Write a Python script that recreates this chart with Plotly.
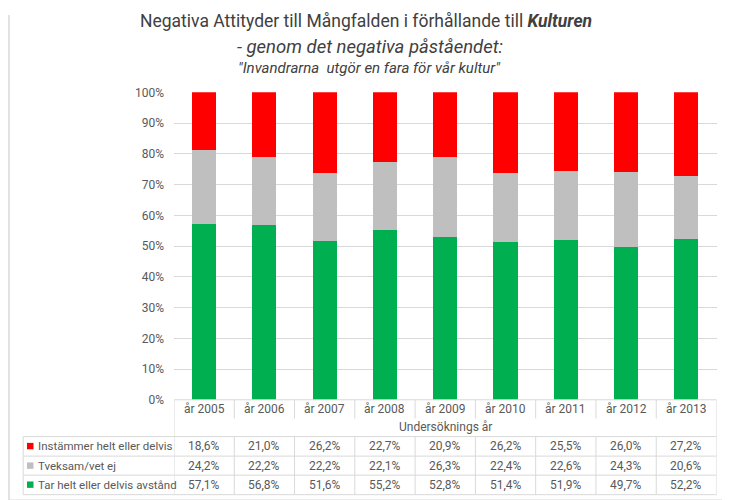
import plotly.graph_objects as go

years = ["år 2005", "år 2006", "år 2007", "år 2008", "år 2009", "år 2010", "år 2011", "år 2012", "år 2013"]
instammer = [18.6, 21.0, 26.2, 22.7, 20.9, 26.2, 25.5, 26.0, 27.2]
tveksam = [24.2, 22.2, 22.2, 22.1, 26.3, 22.4, 22.6, 24.3, 20.6]
tar_avstand = [57.1, 56.8, 51.6, 55.2, 52.8, 51.4, 51.9, 49.7, 52.2]
series_names = ["Instämmer helt eller delvis", "Tveksam/vet ej", "Tar helt eller delvis avstånd"]
series_colors = ["#FF0000", "#BFBFBF", "#00B050"]
y_ticks = list(range(0, 101, 10))
y_ticktext = [f"{v}%" for v in y_ticks]

W, H = 730, 500
FONT = "Roboto, sans-serif"
TXT = "#595959"
LINE = "#D9D9D9"

# calibration between reference pixels and figure coordinates
XOFF, YA, YB = 7.5, 0.97, 14.3

def px(x):
    return (x - XOFF) / W

def py(y):
    return 1 - ((y - YB) / YA) / H

PL, PR, PT, PB = 173.5, 716, 91.5, 398.3

fig = go.Figure()
for name, vals, col in zip(series_names[::-1], [tar_avstand, tveksam, instammer], series_colors[::-1]):
    fig.add_trace(go.Bar(x=years, y=vals, name=name, marker=dict(color=col, line=dict(width=0)),
                         showlegend=False))

fig.update_layout(
    width=W, height=H,
    barmode="stack", barnorm="percent", bargap=0.6,
    margin=dict(l=0, r=0, t=0, b=0),
    paper_bgcolor="white", plot_bgcolor="white",
    font=dict(family=FONT, color=TXT, size=12),
    xaxis=dict(domain=[px(PL), px(PR)], range=[-0.5, len(years) - 0.5], showticklabels=False,
               showgrid=False, zeroline=False, showline=False, fixedrange=True),
    yaxis=dict(domain=[py(PB), py(PT)], range=[0, 100], tickvals=y_ticks, ticktext=y_ticktext,
               gridcolor=LINE, gridwidth=1, zeroline=False, showline=False,
               tickfont=dict(size=12, color=TXT), ticklabelstandoff=9),
)

shapes = []
shapes.append(dict(type="line", xref="paper", yref="paper", x0=px(PL), x1=px(PR), y0=py(PB), y1=py(PB),
                   line=dict(color=LINE, width=1)))
row_lines = [435, 454.5, 473.5, 493]
for yy in row_lines:
    shapes.append(dict(type="line", xref="paper", yref="paper", x0=px(22.7), x1=px(PR), y0=py(yy), y1=py(yy),
                       line=dict(color=LINE, width=1)))
shapes.append(dict(type="line", xref="paper", yref="paper", x0=px(22.7), x1=px(22.7), y0=py(435), y1=py(493),
                   line=dict(color=LINE, width=1)))
n = len(years)
for k in range(n + 1):
    xv = -0.5 + k
    if k in (0, n):
        shapes.append(dict(type="line", xref="x", yref="paper", x0=xv, x1=xv, y0=py(PB), y1=py(493),
                           line=dict(color=LINE, width=1)))
    else:
        shapes.append(dict(type="line", xref="x", yref="paper", x0=xv, x1=xv, y0=py(PB), y1=py(417),
                           line=dict(color=LINE, width=1)))
        shapes.append(dict(type="line", xref="x", yref="paper", x0=xv, x1=xv, y0=py(435), y1=py(493),
                           line=dict(color=LINE, width=1)))
# outer chart border (left, right, bottom)
BL, BR, BB = 8.5, 727.5, 498.5
for x0, x1, y0, y1 in [(BL, BL, BB, None), (BR, BR, BB, None), (BL, BR, BB, BB)]:
    shapes.append(dict(type="line", xref="paper", yref="paper", x0=px(x0), x1=px(x1), y0=py(y0),
                       y1=1 if y1 is None else py(y1), line=dict(color=LINE, width=1.5)))

annotations = []

def ann(text, x, y, xref="paper", size=12, color=TXT, xanchor="center"):
    annotations.append(dict(text=text, x=x, y=y, xref=xref, yref="paper", showarrow=False,
                            xanchor=xanchor, yanchor="middle", font=dict(size=size, color=color, family=FONT)))

ann("Negativa Attityder till Mångfalden i förhållande till <b><i>Kulturen</i></b>", px(365), py(20), size=17.5, color="#404040")
ann("<i>- genom det negativa påståendet:</i>", px(369), py(46.5), size=18.5, color="#404040")
ann("<i>\"Invandrarna  utgör en fara för vår kultur\"</i>", px(368), py(67), size=15, color="#404040")

for yr in years:
    ann(yr, yr, py(407.5), xref="x")
ann("Undersöknings år", (px(PL) + px(PR)) / 2, py(425.5))

row_centers = [444.5, 464, 483]
for name, vals, col, yc in zip(series_names, [instammer, tveksam, tar_avstand], series_colors, row_centers):
    shapes.append(dict(type="rect", xref="paper", yref="paper", x0=px(26.5), x1=px(33), y0=py(yc + 3.2),
                       y1=py(yc - 3.2), fillcolor=col, line=dict(width=0)))
    ann(name, px(35.5), py(yc), size=11.5, xanchor="left")
    for yr, v in zip(years, vals):
        ann(f"{v:.1f}%".replace(".", ","), yr, py(yc), xref="x")

fig.update_layout(shapes=shapes, annotations=annotations)
fig.write_html("out.html")
